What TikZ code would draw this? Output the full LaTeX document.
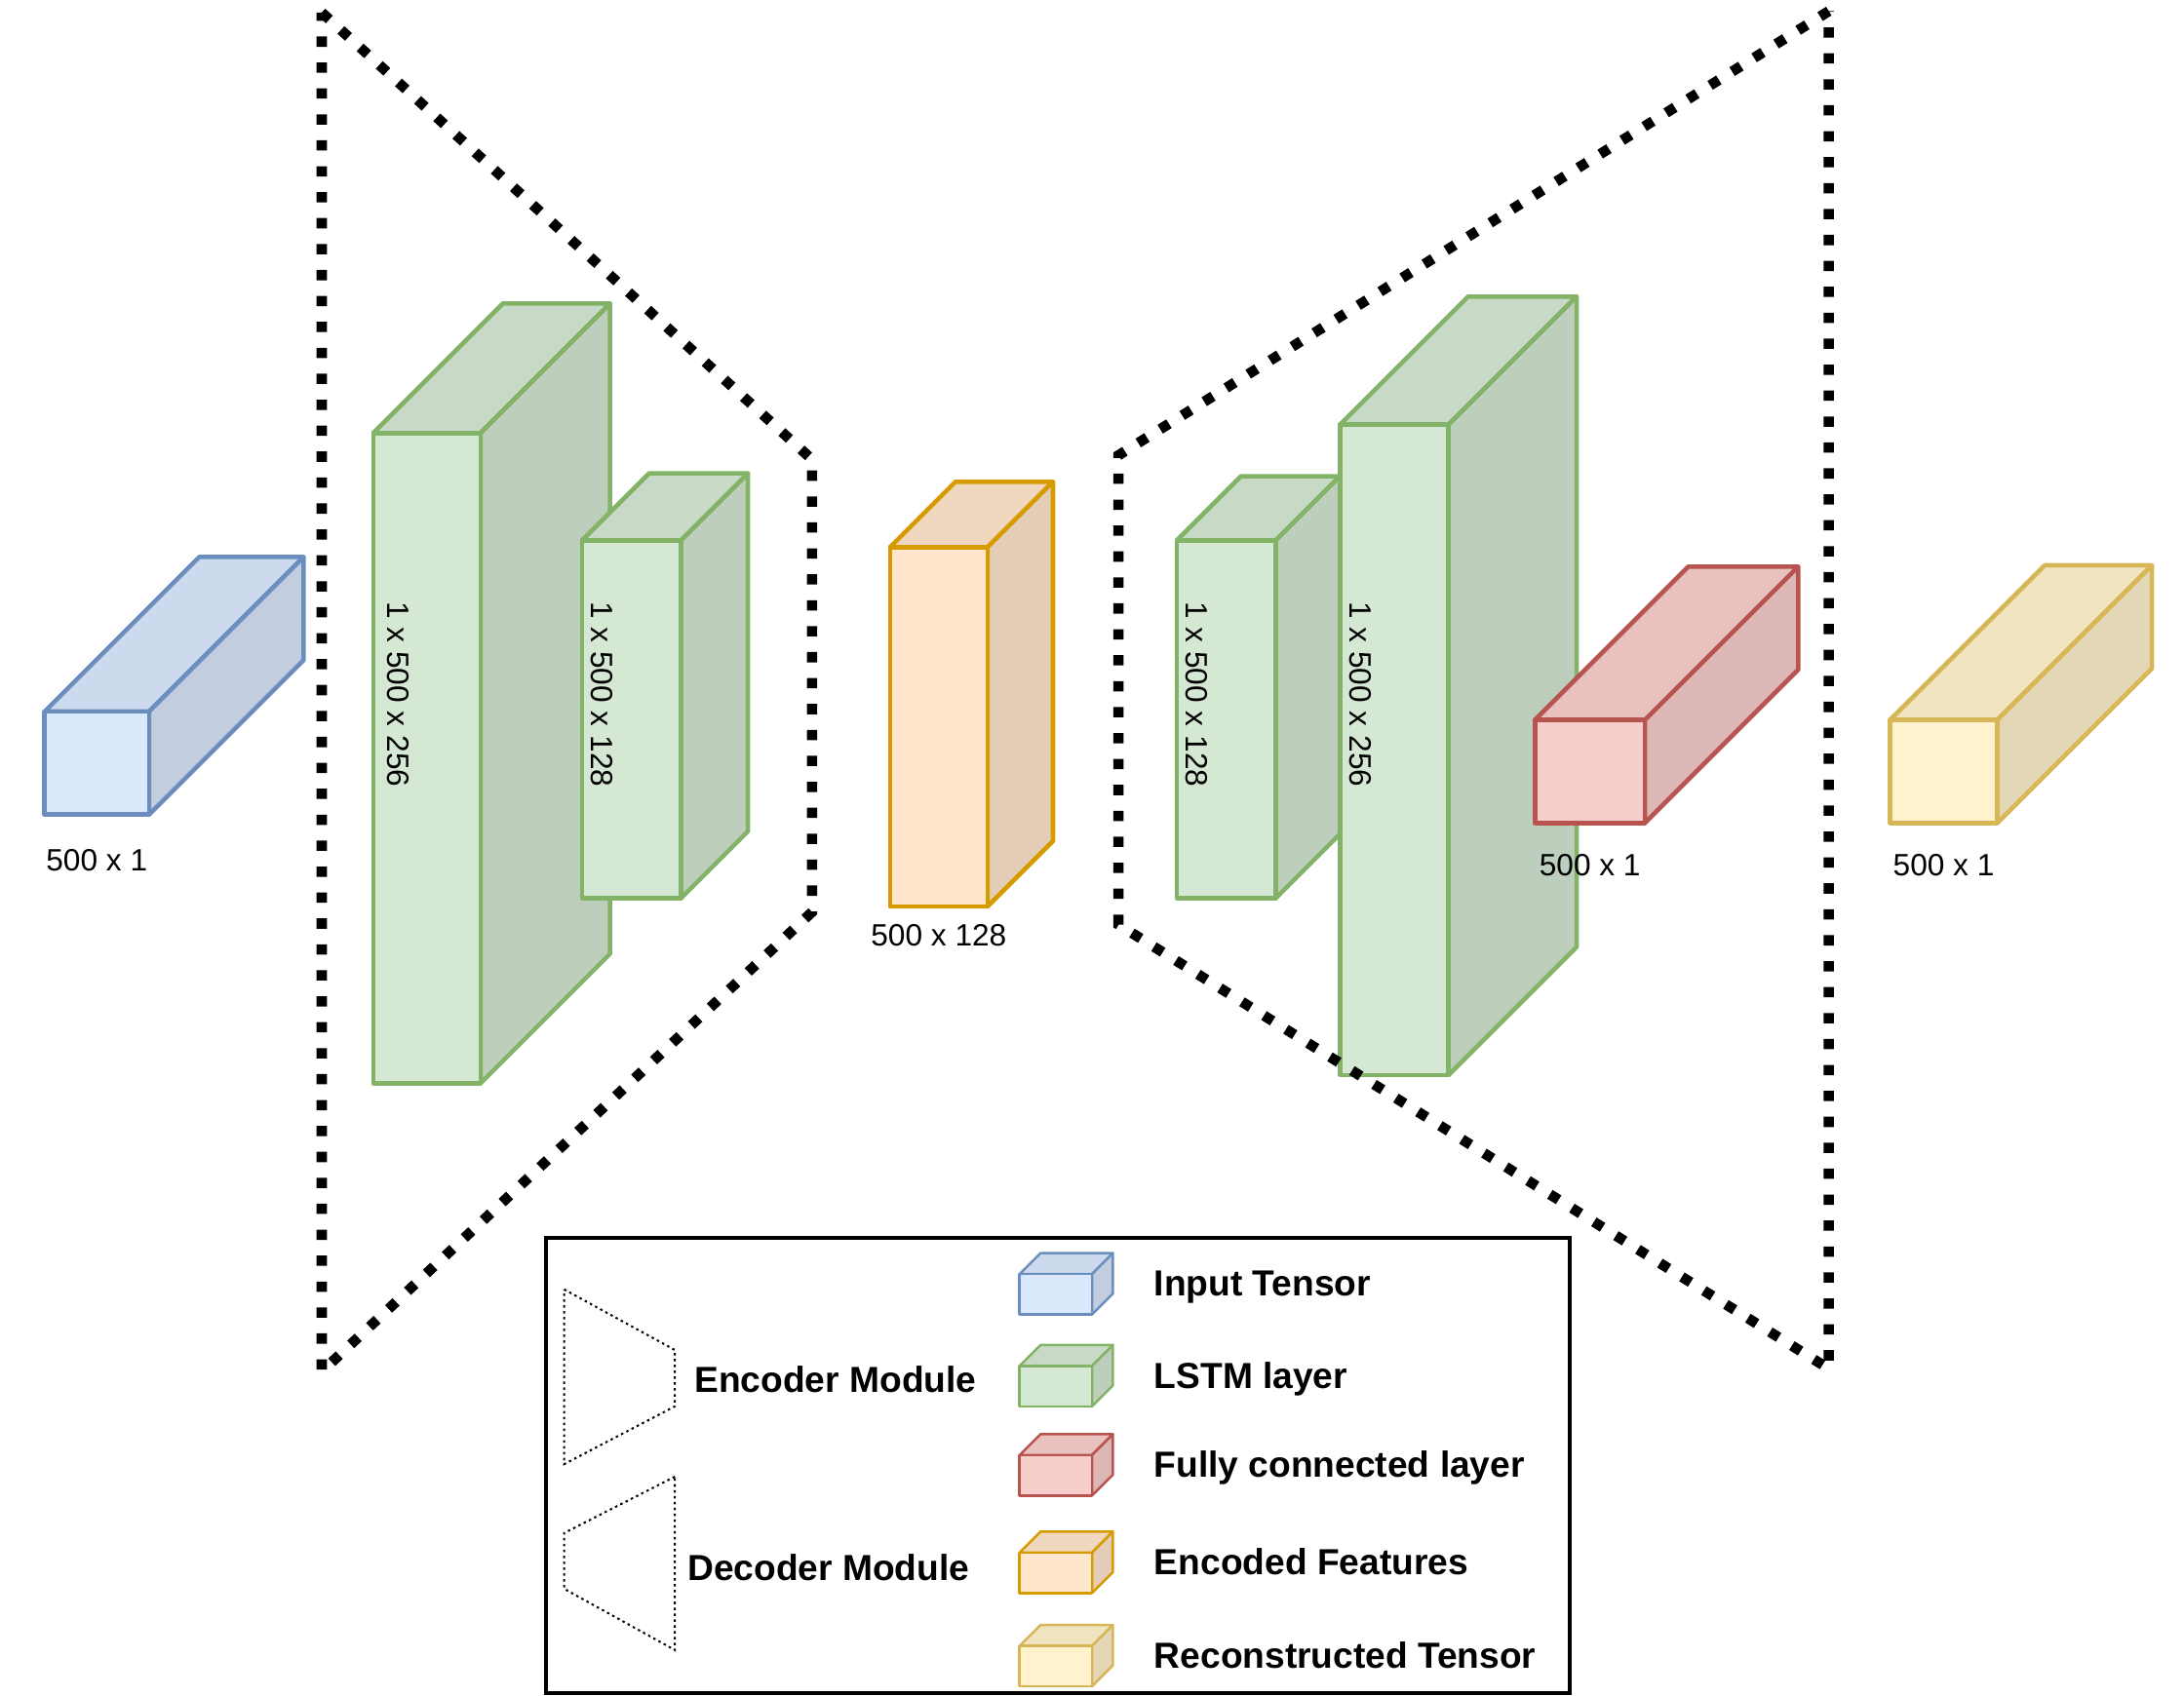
\documentclass[tikz,border=0pt]{standalone}
\usepackage{fontspec}
\setmainfont{Liberation Sans}
\usetikzlibrary{positioning}

\definecolor{inpfill}{HTML}{DAE8FC}
\definecolor{inpline}{HTML}{6C8EBF}
\definecolor{lstmfill}{HTML}{D5E8D4}
\definecolor{lstmline}{HTML}{82B366}
\definecolor{fcfill}{HTML}{F8CECC}
\definecolor{fcline}{HTML}{B85450}
\definecolor{codefill}{HTML}{FFE6CC}
\definecolor{codeline}{HTML}{D79B00}
\definecolor{recfill}{HTML}{FFF2CC}
\definecolor{recline}{HTML}{D6B656}

% name, colour, x, y, width, height, depth
\newcommand{\layerbox}[7]{%
    \filldraw[box, draw=#2line, fill=#2fill!94!black] (#3,#4) -- ++(#7,-#7) -- ++(#5,0) -- ++(-#7,#7) -- cycle;
    \filldraw[box, draw=#2line, fill=#2fill!89!black] (#3+#5,#4) -- ++(#7,-#7) -- ++(0,#6) -- ++(-#7,#7) -- cycle;
    \node[box, draw=#2line, fill=#2fill, anchor=north west, minimum width=#5*0.1mm, minimum height=#6*0.1mm] (#1) at (#3,#4) {};
}

\begin{document}
\begin{tikzpicture}[x=0.1mm, y=-0.1mm, node distance=2mm]
    \tikzstyle{box}=[line width=0.9pt, line join=round, inner sep=0pt, outer sep=0pt]
    \tikzstyle{dimtext}=[font=\fontsize{6.3}{7}\selectfont, inner sep=1pt]
    \tikzstyle{legtext}=[font=\fontsize{7.4}{9}\selectfont\bfseries, anchor=base west, inner sep=0pt]
    \tikzstyle{module}=[line width=2.1pt, dash pattern=on 2.1pt off 3.2pt]
    \tikzstyle{minimodule}=[line width=0.4pt, dash pattern=on 0.5pt off 0.7pt]

    \useasboundingbox (0,0) rectangle (1568,1218);

    %%%%%%%%%%%%%%%%%%%%%%%%%%%%%%%%%%%%%%%%%%%%
    %%% DRAW THE LAYERS
    %%%%%%%%%%%%%%%%%%%%%%%%%%%%%%%%%%%%%%%%%%%%
    \layerbox{inp}{inp}{32}{511}{75}{74}{111}
    \layerbox{enc1}{lstm}{268}{311}{77}{467}{93}
    \layerbox{enc2}{lstm}{418}{388}{71}{257}{48}
    \layerbox{code}{code}{639}{393}{70}{258}{47}
    \layerbox{dec1}{lstm}{845}{388}{71}{257}{46}
    \layerbox{dec2}{lstm}{962}{305}{78}{467}{92}
    \layerbox{fc}{fc}{1102}{517}{79}{74}{110}
    \layerbox{out}{rec}{1357}{517}{77}{74}{111}

    % sizes
    \node[dimtext, below=2.1mm of inp] (inp-lbl) {500 x 1};
    \node[dimtext, below=0.9mm of code] (code-lbl) {500 x 128};
    \node[dimtext, below=1.8mm of fc] (fc-lbl) {500 x 1};
    \node[dimtext, below=1.8mm of out] (out-lbl) {500 x 1};
    \node[dimtext, rotate=-90, anchor=west] (enc1-lbl) at (286,428) {1 x 500 x 256};
    \node[dimtext, rotate=-90, anchor=west] (enc2-lbl) at (432,428) {1 x 500 x 128};
    \node[dimtext, rotate=-90, anchor=west] (dec1-lbl) at (859,428) {1 x 500 x 128};
    \node[dimtext, rotate=-90, anchor=west] (dec2-lbl) at (977,428) {1 x 500 x 256};

    %%%%%%%%%%%%%%%%%%%%%%%%%%%%%%%%%%%%%%%%%%%%
    %%% ENCODER / DECODER OUTLINES
    %%%%%%%%%%%%%%%%%%%%%%%%%%%%%%%%%%%%%%%%%%%%
    \draw[module] (231,9) -- (583,330) -- (583,655) -- (231,985) -- cycle;
    \draw[module] (1313,8) -- (803,327) -- (803,664) -- (1313,983) -- cycle;

    %%%%%%%%%%%%%%%%%%%%%%%%%%%%%%%%%%%%%%%%%%%%
    %%% LEGEND
    %%%%%%%%%%%%%%%%%%%%%%%%%%%%%%%%%%%%%%%%%%%%
    \draw[line width=0.8pt] (392,889) rectangle (1127,1216);

    \draw[minimodule] (405,926) -- (484.5,969.5) -- (484.5,1010) -- (405,1051.5) -- cycle;
    \draw[minimodule] (484.5,1060.5) -- (405,1101) -- (405,1141) -- (484.5,1185) -- cycle;
    \node[legtext] (enc-key) at (498,1000) {Encoder Module};
    \node[legtext] (dec-key) at (493,1135) {Decoder Module};

    \begin{scope}[box/.append style={line width=0.5pt}]
    \foreach \y/\c/\t in {915/inp/Input Tensor, 981/lstm/LSTM layer, 1045/fc/Fully connected layer, 1115/code/Encoded Features, 1182/rec/Reconstructed Tensor}{
        \layerbox{key-\c}{\c}{732}{\y}{52}{29}{15}
        \node[legtext] (key-\c-txt) at (828,\y+16) {\t};
    }
    \end{scope}
\end{tikzpicture}
\end{document}
